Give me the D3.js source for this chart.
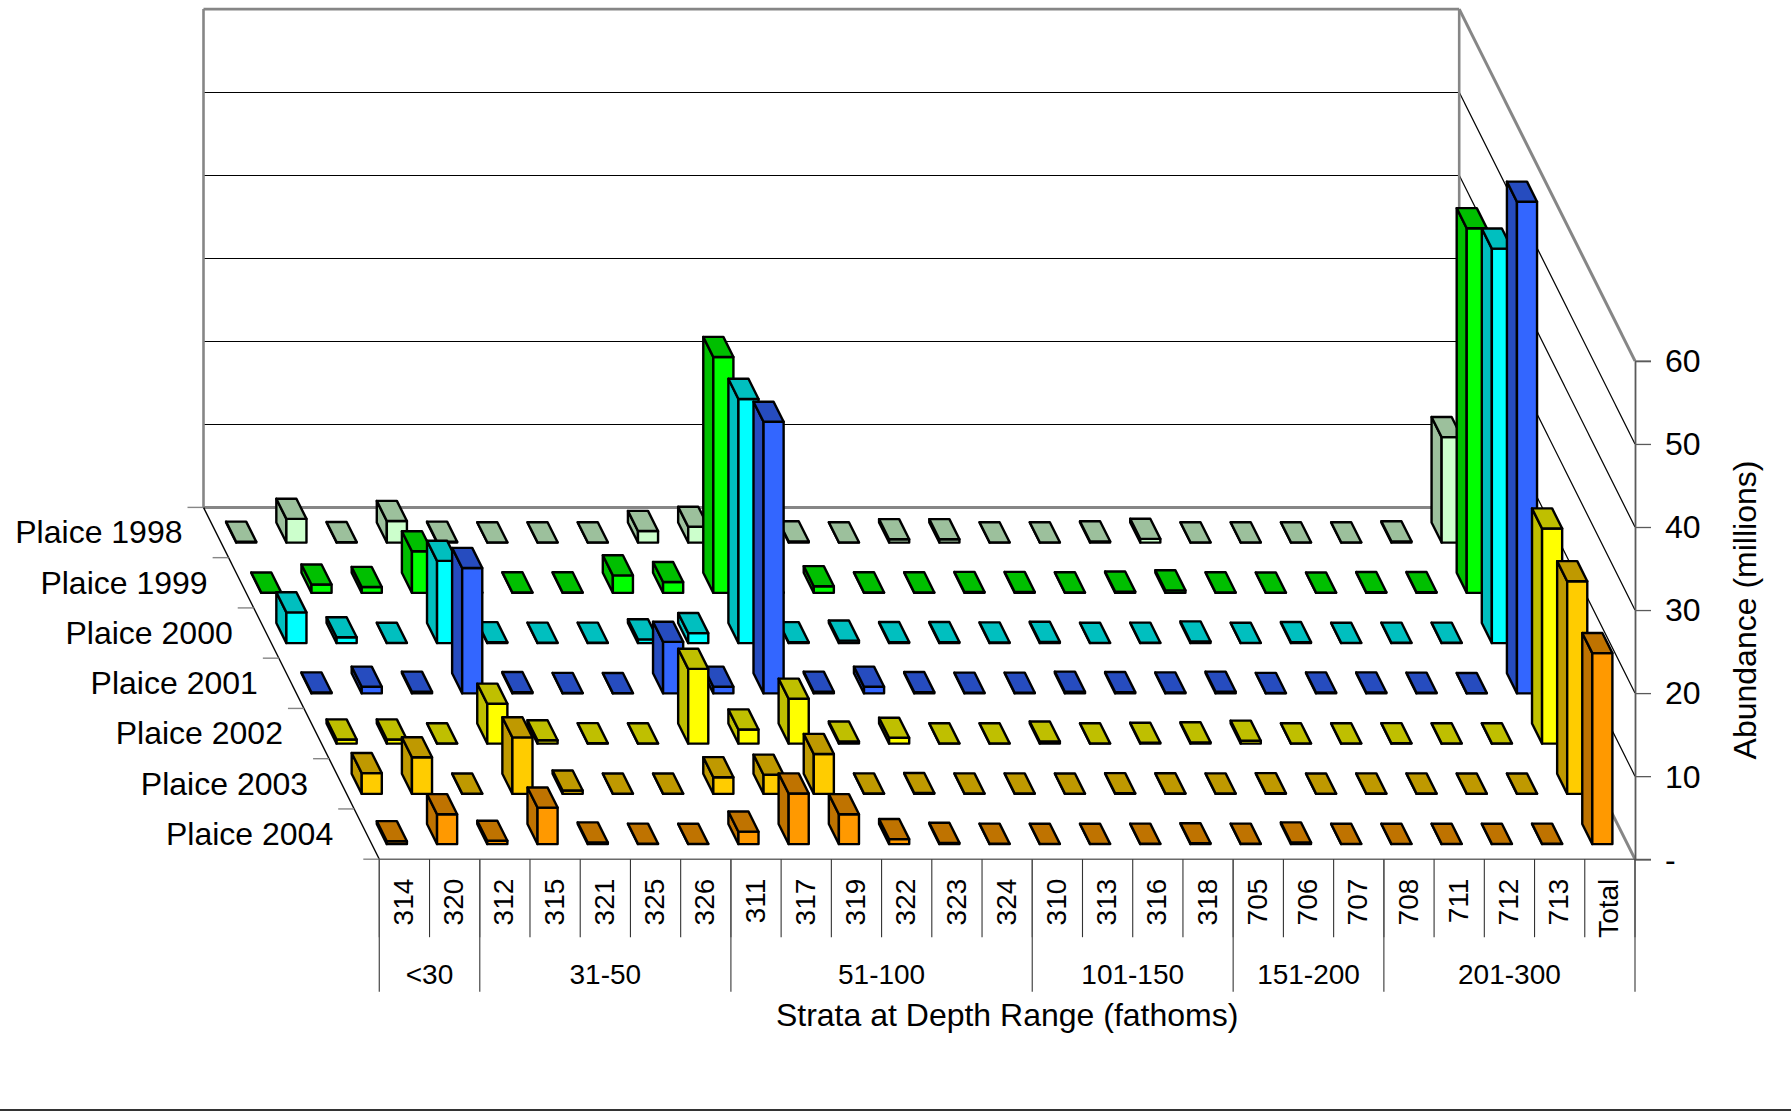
<!DOCTYPE html>
<html>
<head>
<meta charset="utf-8">
<script src="https://cdn.jsdelivr.net/npm/d3@7"></script>
<style>
html,body{margin:0;padding:0;background:#fff}
svg{display:block}
text{font-family:"Liberation Sans",Arial,sans-serif;fill:#000}
</style>
</head>
<body>
<svg id="chart" width="1791" height="1112"></svg>
<script>
const strata = ["314","320","312","315","321","325","326","311","317","319","322","323","324","310","313","316","318","705","706","707","708","711","712","713","Total"];
const depthNames = ["<30","31-50","51-100","101-150","151-200","201-300"];
const depthSizes = [2,5,6,4,3,5];
const seriesNames = ["Plaice 1998","Plaice 1999","Plaice 2000","Plaice 2001","Plaice 2002","Plaice 2003","Plaice 2004"];
const plaice1998 = [.1,2.85,.05,2.6,.1,.03,.03,.03,1.4,1.9,.03,.15,.03,.4,.4,.03,.03,.15,.45,.03,.03,.03,.03,.15,12.7];
const plaice1999 = [.03,1.0,.7,5.0,.03,.05,.05,2.1,1.3,28.4,.03,.8,.05,.05,.1,.1,.05,.15,.3,.05,.03,.03,.08,.08,43.9];
const plaice2000 = [3.7,.7,.03,9.9,.1,.05,.05,.45,1.2,29.4,.1,.3,.12,.12,.08,.15,.03,.05,.2,.03,.12,.03,.05,.05,47.5];
const plaice2001 = [.1,.8,.2,15.1,.15,.05,.03,6.2,.8,32.7,.2,.8,.15,.08,.08,.2,.15,.1,.2,.05,.1,.1,.08,.03,59.2];
const plaice2002 = [.5,.5,.03,4.8,.4,.05,.03,9.0,1.7,5.4,.25,.7,.03,.03,.25,.03,.1,.15,.35,.03,.03,.05,.03,.03,25.9];
const plaice2003 = [2.5,4.4,.03,6.8,.4,.03,.03,2.0,2.3,4.8,.05,.1,.05,.05,.03,.08,.06,.05,.08,.03,.05,.05,.03,.03,25.6];
const plaice2004 = [.35,3.6,.4,4.4,.2,.05,.03,1.5,6.1,3.6,.6,.15,.05,.03,.03,.05,.1,.05,.2,.03,.03,.03,.03,.05,23.0];
const seriesValues = [plaice1998,plaice1999,plaice2000,plaice2001,plaice2002,plaice2003,plaice2004];
const frontColors = ["#CCFFCC","#00FF00","#00FFFF","#3366FF","#FFFF00","#FFCC00","#FF9900"];
const darkColors  = ["#9CC09C","#00BF00","#00BFBF","#264CBF","#BFBF00","#BF9900","#BF7300"];
const valueTicks = [0,10,20,30,40,50,60];

const FONT = 32, SMALL = 28;
const svg = d3.select("#chart");

// oblique projection built from three linear scales
const xCat  = d3.scaleLinear().domain([0, strata.length]).range([0, 1255.7]);
const zRow  = d3.scaleLinear().domain([0, seriesNames.length]).range([0, 351.8]);
const zRowX = d3.scaleLinear().domain([0, seriesNames.length]).range([0, 175.8]);
const yVal  = d3.scaleLinear().domain([0, 60]).range([0, -498.3]);
const X0 = 203.5, Y0 = 507.4;
const px = (c, z) => X0 + xCat(c) + zRowX(z);
const py = (z, v) => Y0 + zRow(z) + yVal(v);
const pt = (c, z, v) => [px(c, z), py(z, v)];
const poly = pts => pts.map(p => p.map(n => n.toFixed(2)).join(",")).join(" ");

const nC = strata.length, nR = seriesNames.length;
const GREY = "#868686", AXIS = "#5a5a5a";

// walls
const walls = svg.append("g");
const gridVals = valueTicks.filter(v => v > 0 && v < 60);
walls.selectAll("line.gb").data(gridVals).join("line").attr("class","gb")
  .attr("x1", px(0,0)).attr("x2", px(nC,0))
  .attr("y1", d => Math.floor(py(0,d))+.5).attr("y2", d => Math.floor(py(0,d))+.5)
  .attr("stroke","#000").attr("stroke-width",1);
walls.selectAll("line.gr").data(gridVals).join("line").attr("class","gr")
  .attr("x1", px(nC,0)).attr("x2", px(nC,nR))
  .attr("y1", d => py(0,d)).attr("y2", d => py(nR,d))
  .attr("stroke","#000").attr("stroke-width",1.2);
const edge = (a, b, col, w) => walls.append("line")
  .attr("x1",a[0]).attr("y1",a[1]).attr("x2",b[0]).attr("y2",b[1])
  .attr("stroke",col).attr("stroke-width",w);
edge(pt(0,0,0), pt(0,0,60), GREY, 2.6);
edge(pt(0,0,60), pt(nC,0,60), GREY, 2.6);
edge(pt(nC,0,0), pt(nC,0,60), GREY, 2.6);
edge(pt(0,0,0), pt(nC,0,0), GREY, 3);
edge(pt(nC,0,60), pt(nC,nR,60), GREY, 3);
edge(pt(nC,0,0), pt(nC,nR,0), GREY, 3);
edge(pt(0,0,0), pt(0,nR,0), "#000", 1.4);
edge(pt(0,nR,0), pt(nC,nR,0), "#6a6a6a", 1.6);

// row ticks
walls.selectAll("line.rt").data(d3.range(nR+1)).join("line").attr("class","rt")
  .attr("x1", d => px(0,d)-16).attr("x2", d => px(0,d))
  .attr("y1", d => py(d,0)).attr("y2", d => py(d,0))
  .attr("stroke",GREY).attr("stroke-width",1.4);

// bars, back row first
seriesValues.forEach((vals, r) => {
  const g = svg.append("g").attr("stroke","#000").attr("stroke-width",2.4).attr("stroke-linejoin","round");
  vals.forEach((v, c) => {
    const c0 = c + .3, c1 = c + .7, z0 = r + .3, z1 = r + .7;
    g.append("polygon").attr("fill",darkColors[r])
      .attr("points",poly([pt(c0,z0,0),pt(c0,z0,v),pt(c0,z1,v),pt(c0,z1,0)]));
    g.append("polygon").attr("fill",frontColors[r])
      .attr("points",poly([pt(c0,z1,0),pt(c1,z1,0),pt(c1,z1,v),pt(c0,z1,v)]));
    g.append("polygon").attr("fill",darkColors[r])
      .attr("points",poly([pt(c0,z0,v),pt(c1,z0,v),pt(c1,z1,v),pt(c0,z1,v)]));
  });
});

// series labels
svg.selectAll("text.sn").data(seriesNames).join("text").attr("class","sn")
  .attr("x",(d,i)=>px(0,i)-21).attr("y",(d,i)=>py(i,0)+36)
  .attr("text-anchor","end").attr("font-size",FONT).text(d=>d);

// value axis on the front right edge
const yAxisScale = d3.scaleLinear().domain([0,60]).range([py(nR,0), py(nR,60)]);
const vAxis = svg.append("g").attr("transform",`translate(${px(nC,nR)},0)`)
  .call(d3.axisRight(yAxisScale).tickValues(valueTicks).tickSize(16).tickPadding(14)
    .tickFormat(d => d === 0 ? "-" : d));
vAxis.selectAll("path.domain").attr("stroke",AXIS).attr("stroke-width",1.8);
vAxis.selectAll("line").attr("stroke",AXIS).attr("stroke-width",1.3);
vAxis.selectAll("text").attr("font-size",FONT).attr("font-family",'"Liberation Sans",Arial,sans-serif').attr("dy",".34em");

// category axis
const yFront = py(nR,0);
const catAxis = svg.append("g");
catAxis.selectAll("line").data(d3.range(nC+1)).join("line")
  .attr("x1",d=>px(d,nR)).attr("x2",d=>px(d,nR))
  .attr("y1",yFront).attr("y2",yFront+78)
  .attr("stroke","#333").attr("stroke-width",1.1);
catAxis.selectAll("text").data(strata).join("text")
  .attr("transform",(d,i)=>`translate(${px(i+.5,nR)-1.5},${yFront+19.5}) rotate(-90)`)
  .attr("text-anchor","end").attr("dy",".36em").attr("font-size",SMALL).text(d=>d);

// depth group axis
const groupEdges = d3.cumsum([0,...depthSizes]);
const gAxis = svg.append("g");
gAxis.selectAll("line").data(groupEdges).join("line")
  .attr("x1",d=>px(d,nR)).attr("x2",d=>px(d,nR))
  .attr("y1",yFront).attr("y2",yFront+132.5)
  .attr("stroke","#555").attr("stroke-width",1.3);
gAxis.selectAll("text").data(depthNames).join("text")
  .attr("x",(d,i)=>px((groupEdges[i]+groupEdges[i+1])/2,nR))
  .attr("y",yFront+124.5).attr("text-anchor","middle").attr("font-size",SMALL).text(d=>d);

// titles
svg.append("text").attr("x",px(nC/2,nR)).attr("y",1026).attr("text-anchor","middle")
  .attr("font-size",FONT).text("Strata at Depth Range (fathoms)");
svg.append("text").attr("transform","translate(1756,610) rotate(-90)").attr("text-anchor","middle")
  .attr("font-size",FONT).text("Abundance (millions)");

// bottom rule
svg.append("line").attr("x1",0).attr("x2",1791).attr("y1",1110).attr("y2",1110).attr("stroke","#333").attr("stroke-width",2);
</script>
</body>
</html>
